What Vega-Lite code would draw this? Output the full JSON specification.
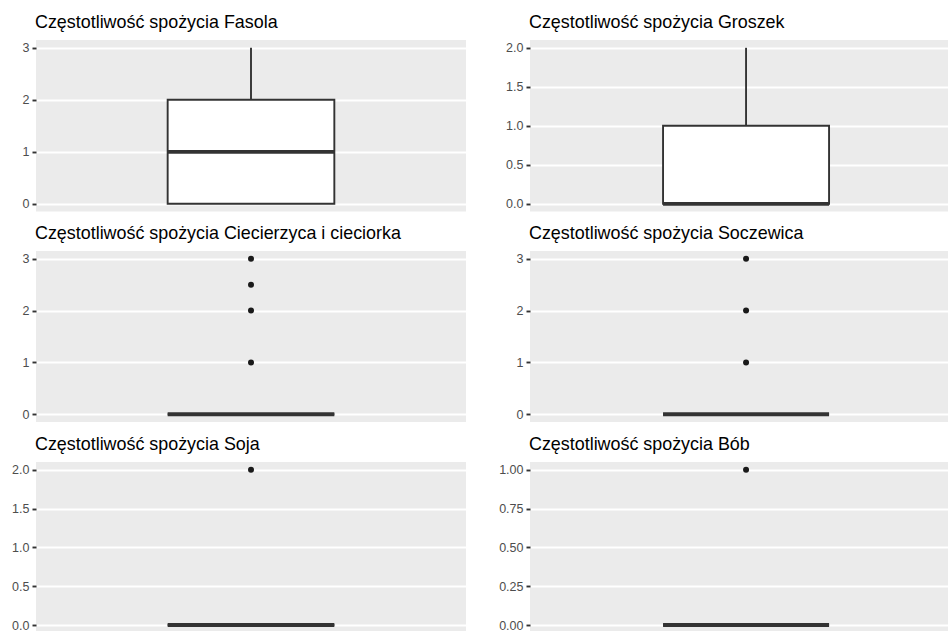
{
  "$schema": "https://vega.github.io/schema/vega-lite/v6.json",
  "padding": {"top": 14, "left": 11, "right": 0, "bottom": 0},
  "background": "#FFFFFF",
  "columns": 2,
  "align": "all",
  "spacing": {"row": 13, "column": 32},
  "datasets": {
    "stats": [
      {"name": "Fasola", "lower": 0, "q1": 0, "median": 1, "q3": 2, "upper": 3},
      {"name": "Groszek", "lower": 0, "q1": 0, "median": 0, "q3": 1, "upper": 2},
      {"name": "Ciecierzyca i cieciorka", "lower": 0, "q1": 0, "median": 0, "q3": 0, "upper": 0},
      {"name": "Soczewica", "lower": 0, "q1": 0, "median": 0, "q3": 0, "upper": 0},
      {"name": "Soja", "lower": 0, "q1": 0, "median": 0, "q3": 0, "upper": 0},
      {"name": "Bób", "lower": 0, "q1": 0, "median": 0, "q3": 0, "upper": 0}
    ],
    "outliers": [
      {"name": "Ciecierzyca i cieciorka", "value": 1},
      {"name": "Ciecierzyca i cieciorka", "value": 2},
      {"name": "Ciecierzyca i cieciorka", "value": 2.5},
      {"name": "Ciecierzyca i cieciorka", "value": 3},
      {"name": "Soczewica", "value": 1},
      {"name": "Soczewica", "value": 2},
      {"name": "Soczewica", "value": 3},
      {"name": "Soja", "value": 2},
      {"name": "Bób", "value": 1}
    ]
  },
  "concat": [
    {
      "width": 430, "height": 171.6,
      "title": {"text": "Częstotliwość spożycia Fasola"},
      "encoding": {"x": {"field": "name", "type": "nominal", "axis": null, "scale": {"paddingInner": 0, "paddingOuter": 0.79, "align": 0.5}}},
      "layer": [
        {"data": {"name": "stats"}, "transform": [{"filter": "datum.name === 'Fasola'"}],
         "mark": {"type": "rule", "color": "#333333", "strokeWidth": 1.9},
         "encoding": {"y": {"field": "lower", "type": "quantitative", "title": null,
            "scale": {"domain": [-0.15, 3.15], "nice": false, "zero": false},
            "axis": {"values": [0, 0.5, 1, 1.5, 2, 2.5, 3],
              "labelExpr": "datum.value % 1 === 0 ? format(datum.value, 'd') : ''",
              "tickOpacity": {"condition": {"test": "datum.value % 1 !== 0", "value": 0}, "value": 1},
              "gridWidth": {"condition": {"test": "datum.value % 1 !== 0", "value": 1}, "value": 2}}},
           "y2": {"field": "upper"}}},
        {"data": {"name": "stats"}, "transform": [{"filter": "datum.name === 'Fasola'"}],
         "mark": {"type": "bar", "fill": "#FFFFFF", "stroke": "#333333", "strokeWidth": 1.9},
         "encoding": {"y": {"field": "q1", "type": "quantitative"}, "y2": {"field": "q3"}}},
        {"data": {"name": "stats"}, "transform": [{"filter": "datum.name === 'Fasola'"}],
         "mark": {"type": "rule", "color": "#333333", "strokeWidth": 3.8, "strokeCap": "butt"},
         "encoding": {"x": {"field": "name", "type": "nominal", "bandPosition": 0}, "x2": {"field": "name", "bandPosition": 1}, "y": {"field": "median", "type": "quantitative"}}}
      ]
    },
    {
      "width": 418, "height": 171.6,
      "title": {"text": "Częstotliwość spożycia Groszek"},
      "encoding": {"x": {"field": "name", "type": "nominal", "axis": null, "scale": {"paddingInner": 0, "paddingOuter": 0.759, "align": 0.528}}},
      "layer": [
        {"data": {"name": "stats"}, "transform": [{"filter": "datum.name === 'Groszek'"}],
         "mark": {"type": "rule", "color": "#333333", "strokeWidth": 1.9},
         "encoding": {"y": {"field": "lower", "type": "quantitative", "title": null,
            "scale": {"domain": [-0.1, 2.1], "nice": false, "zero": false},
            "axis": {"values": [0, 0.25, 0.5, 0.75, 1, 1.25, 1.5, 1.75, 2],
              "labelExpr": "datum.value % 0.5 === 0 ? format(datum.value, '.1f') : ''",
              "tickOpacity": {"condition": {"test": "datum.value % 0.5 !== 0", "value": 0}, "value": 1},
              "gridWidth": {"condition": {"test": "datum.value % 0.5 !== 0", "value": 1}, "value": 2}}},
           "y2": {"field": "upper"}}},
        {"data": {"name": "stats"}, "transform": [{"filter": "datum.name === 'Groszek'"}],
         "mark": {"type": "bar", "fill": "#FFFFFF", "stroke": "#333333", "strokeWidth": 1.9},
         "encoding": {"y": {"field": "q1", "type": "quantitative"}, "y2": {"field": "q3"}}},
        {"data": {"name": "stats"}, "transform": [{"filter": "datum.name === 'Groszek'"}],
         "mark": {"type": "rule", "color": "#333333", "strokeWidth": 3.8, "strokeCap": "butt"},
         "encoding": {"x": {"field": "name", "type": "nominal", "bandPosition": 0}, "x2": {"field": "name", "bandPosition": 1}, "y": {"field": "median", "type": "quantitative"}}}
      ]
    },
    {
      "width": 430, "height": 171,
      "title": {"text": "Częstotliwość spożycia Ciecierzyca i cieciorka"},
      "encoding": {"x": {"field": "name", "type": "nominal", "axis": null, "scale": {"paddingInner": 0, "paddingOuter": 0.79, "align": 0.5}}},
      "layer": [
        {"data": {"name": "stats"}, "transform": [{"filter": "datum.name === 'Ciecierzyca i cieciorka'"}],
         "mark": {"type": "rule", "color": "#333333", "strokeWidth": 1.9},
         "encoding": {"y": {"field": "lower", "type": "quantitative", "title": null,
            "scale": {"domain": [-0.15, 3.15], "nice": false, "zero": false},
            "axis": {"values": [0, 0.5, 1, 1.5, 2, 2.5, 3],
              "labelExpr": "datum.value % 1 === 0 ? format(datum.value, 'd') : ''",
              "tickOpacity": {"condition": {"test": "datum.value % 1 !== 0", "value": 0}, "value": 1},
              "gridWidth": {"condition": {"test": "datum.value % 1 !== 0", "value": 1}, "value": 2}}},
           "y2": {"field": "upper"}}},
        {"data": {"name": "stats"}, "transform": [{"filter": "datum.name === 'Ciecierzyca i cieciorka'"}],
         "mark": {"type": "bar", "fill": "#FFFFFF", "stroke": "#333333", "strokeWidth": 1.9},
         "encoding": {"y": {"field": "q1", "type": "quantitative"}, "y2": {"field": "q3"}}},
        {"data": {"name": "stats"}, "transform": [{"filter": "datum.name === 'Ciecierzyca i cieciorka'"}],
         "mark": {"type": "rule", "color": "#333333", "strokeWidth": 3.8, "strokeCap": "butt"},
         "encoding": {"x": {"field": "name", "type": "nominal", "bandPosition": 0}, "x2": {"field": "name", "bandPosition": 1}, "y": {"field": "median", "type": "quantitative"}}},
        {"data": {"name": "outliers"}, "transform": [{"filter": "datum.name === 'Ciecierzyca i cieciorka'"}],
         "mark": {"type": "point", "filled": true, "color": "#1A1A1A", "size": 36, "opacity": 1},
         "encoding": {"y": {"field": "value", "type": "quantitative"}}}
      ]
    },
    {
      "width": 418, "height": 171,
      "title": {"text": "Częstotliwość spożycia Soczewica"},
      "encoding": {"x": {"field": "name", "type": "nominal", "axis": null, "scale": {"paddingInner": 0, "paddingOuter": 0.759, "align": 0.528}}},
      "layer": [
        {"data": {"name": "stats"}, "transform": [{"filter": "datum.name === 'Soczewica'"}],
         "mark": {"type": "rule", "color": "#333333", "strokeWidth": 1.9},
         "encoding": {"y": {"field": "lower", "type": "quantitative", "title": null,
            "scale": {"domain": [-0.15, 3.15], "nice": false, "zero": false},
            "axis": {"values": [0, 0.5, 1, 1.5, 2, 2.5, 3],
              "labelExpr": "datum.value % 1 === 0 ? format(datum.value, 'd') : ''",
              "tickOpacity": {"condition": {"test": "datum.value % 1 !== 0", "value": 0}, "value": 1},
              "gridWidth": {"condition": {"test": "datum.value % 1 !== 0", "value": 1}, "value": 2}}},
           "y2": {"field": "upper"}}},
        {"data": {"name": "stats"}, "transform": [{"filter": "datum.name === 'Soczewica'"}],
         "mark": {"type": "bar", "fill": "#FFFFFF", "stroke": "#333333", "strokeWidth": 1.9},
         "encoding": {"y": {"field": "q1", "type": "quantitative"}, "y2": {"field": "q3"}}},
        {"data": {"name": "stats"}, "transform": [{"filter": "datum.name === 'Soczewica'"}],
         "mark": {"type": "rule", "color": "#333333", "strokeWidth": 3.8, "strokeCap": "butt"},
         "encoding": {"x": {"field": "name", "type": "nominal", "bandPosition": 0}, "x2": {"field": "name", "bandPosition": 1}, "y": {"field": "median", "type": "quantitative"}}},
        {"data": {"name": "outliers"}, "transform": [{"filter": "datum.name === 'Soczewica'"}],
         "mark": {"type": "point", "filled": true, "color": "#1A1A1A", "size": 36, "opacity": 1},
         "encoding": {"y": {"field": "value", "type": "quantitative"}}}
      ]
    },
    {
      "width": 430, "height": 169,
      "title": {"text": "Częstotliwość spożycia Soja"},
      "encoding": {"x": {"field": "name", "type": "nominal", "axis": null, "scale": {"paddingInner": 0, "paddingOuter": 0.79, "align": 0.5}}},
      "layer": [
        {"data": {"name": "stats"}, "transform": [{"filter": "datum.name === 'Soja'"}],
         "mark": {"type": "rule", "color": "#333333", "strokeWidth": 1.9},
         "encoding": {"y": {"field": "lower", "type": "quantitative", "title": null,
            "scale": {"domain": [-0.077, 2.1], "nice": false, "zero": false},
            "axis": {"values": [0, 0.25, 0.5, 0.75, 1, 1.25, 1.5, 1.75, 2],
              "labelExpr": "datum.value % 0.5 === 0 ? format(datum.value, '.1f') : ''",
              "tickOpacity": {"condition": {"test": "datum.value % 0.5 !== 0", "value": 0}, "value": 1},
              "gridWidth": {"condition": {"test": "datum.value % 0.5 !== 0", "value": 1}, "value": 2}}},
           "y2": {"field": "upper"}}},
        {"data": {"name": "stats"}, "transform": [{"filter": "datum.name === 'Soja'"}],
         "mark": {"type": "bar", "fill": "#FFFFFF", "stroke": "#333333", "strokeWidth": 1.9},
         "encoding": {"y": {"field": "q1", "type": "quantitative"}, "y2": {"field": "q3"}}},
        {"data": {"name": "stats"}, "transform": [{"filter": "datum.name === 'Soja'"}],
         "mark": {"type": "rule", "color": "#333333", "strokeWidth": 3.8, "strokeCap": "butt"},
         "encoding": {"x": {"field": "name", "type": "nominal", "bandPosition": 0}, "x2": {"field": "name", "bandPosition": 1}, "y": {"field": "median", "type": "quantitative"}}},
        {"data": {"name": "outliers"}, "transform": [{"filter": "datum.name === 'Soja'"}],
         "mark": {"type": "point", "filled": true, "color": "#1A1A1A", "size": 36, "opacity": 1},
         "encoding": {"y": {"field": "value", "type": "quantitative"}}}
      ]
    },
    {
      "width": 418, "height": 169,
      "title": {"text": "Częstotliwość spożycia Bób"},
      "encoding": {"x": {"field": "name", "type": "nominal", "axis": null, "scale": {"paddingInner": 0, "paddingOuter": 0.759, "align": 0.528}}},
      "layer": [
        {"data": {"name": "stats"}, "transform": [{"filter": "datum.name === 'Bób'"}],
         "mark": {"type": "rule", "color": "#333333", "strokeWidth": 1.9},
         "encoding": {"y": {"field": "lower", "type": "quantitative", "title": null,
            "scale": {"domain": [-0.0385, 1.05], "nice": false, "zero": false},
            "axis": {"values": [0, 0.125, 0.25, 0.375, 0.5, 0.625, 0.75, 0.875, 1],
              "labelExpr": "datum.value % 0.25 === 0 ? format(datum.value, '.2f') : ''",
              "tickOpacity": {"condition": {"test": "datum.value % 0.25 !== 0", "value": 0}, "value": 1},
              "gridWidth": {"condition": {"test": "datum.value % 0.25 !== 0", "value": 1}, "value": 2}}},
           "y2": {"field": "upper"}}},
        {"data": {"name": "stats"}, "transform": [{"filter": "datum.name === 'Bób'"}],
         "mark": {"type": "bar", "fill": "#FFFFFF", "stroke": "#333333", "strokeWidth": 1.9},
         "encoding": {"y": {"field": "q1", "type": "quantitative"}, "y2": {"field": "q3"}}},
        {"data": {"name": "stats"}, "transform": [{"filter": "datum.name === 'Bób'"}],
         "mark": {"type": "rule", "color": "#333333", "strokeWidth": 3.8, "strokeCap": "butt"},
         "encoding": {"x": {"field": "name", "type": "nominal", "bandPosition": 0}, "x2": {"field": "name", "bandPosition": 1}, "y": {"field": "median", "type": "quantitative"}}},
        {"data": {"name": "outliers"}, "transform": [{"filter": "datum.name === 'Bób'"}],
         "mark": {"type": "point", "filled": true, "color": "#1A1A1A", "size": 36, "opacity": 1},
         "encoding": {"y": {"field": "value", "type": "quantitative"}}}
      ]
    }
  ],
  "config": {
    "font": "Liberation Sans",
    "view": {"fill": "#EBEBEB", "stroke": null},
    "axis": {
      "domain": false,
      "grid": true,
      "gridColor": "#FFFFFF",
      "tickColor": "#333333",
      "tickSize": 4,
      "tickWidth": 1.9,
      "labelColor": "#4D4D4D",
      "labelFont": "Liberation Sans",
      "labelFontSize": 12.5,
      "labelPadding": 3
    },
    "title": {
      "anchor": "start",
      "frame": "group",
      "font": "Liberation Sans",
      "fontSize": 17.9,
      "fontWeight": "normal",
      "color": "#000000",
      "offset": 8,
      "dx": -1
    }
  }
}
